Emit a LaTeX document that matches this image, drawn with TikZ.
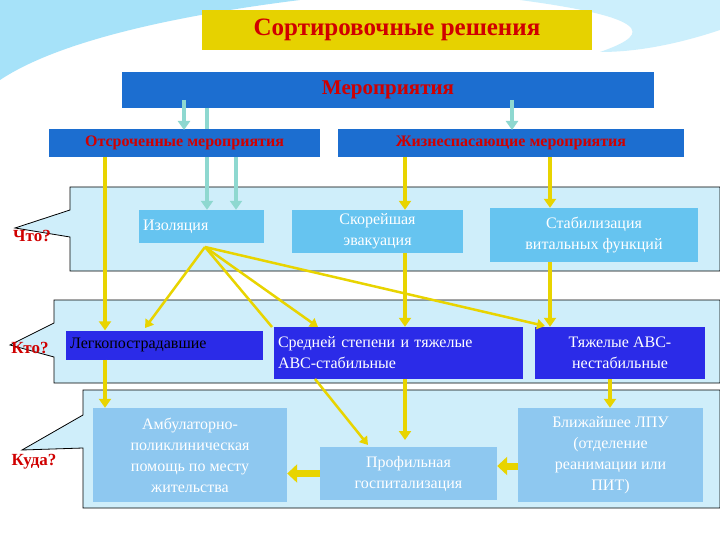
\documentclass[tikz,border=0pt]{standalone}
\usepackage{fontspec}
\setmainfont{Liberation Serif}
\usetikzlibrary{arrows.meta}
\definecolor{ttl}{HTML}{E6D200}
\definecolor{mid}{HTML}{1C6ED0}
\definecolor{dk}{HTML}{2B2BE8}
\definecolor{lt}{HTML}{66C4F0}
\definecolor{pale}{HTML}{8EC8F0}
\definecolor{panel}{HTML}{CFEEFA}
\definecolor{yel}{HTML}{E8D400}
\definecolor{teal}{HTML}{8ED8D0}
\definecolor{rd}{HTML}{D00000}
\tikzset{x=1pt,y=-1pt,
 bx/.style={inner sep=4pt,align=center,font=\fontsize{16}{21}\selectfont},
 pan/.style={fill=panel,draw=black,line width=0.8pt},
 ya/.style={draw=yel,line width=3.5pt,-{Triangle[length=9pt,width=12pt]}},
 yl/.style={draw=yel,line width=2.5pt,-{Triangle[length=8pt,width=10pt]}},
 ta/.style={draw=teal,line width=3.5pt,-{Triangle[length=9pt,width=12pt]}},
 q/.style={text=rd,font=\bfseries\fontsize{17}{19}\selectfont}}
\begin{document}
\begin{tikzpicture}
\useasboundingbox (0,0) rectangle (720,540);
\fill[white] (0,0) rectangle (720,540);
\fill[cyan!35] (0,0) -- (300,0) .. controls (180,15) and (60,40) .. (0,80) -- cycle;
\fill[cyan!20] (520,0) -- (720,0) -- (720,30) .. controls (660,50) and (620,52) .. (600,52) .. controls (640,38) and (670,20) .. (520,0);
\draw[pan] (70,187)--(720,187)--(720,271)--(70,271)--(70,237)--(15,228)--(70,210)--cycle;
\draw[pan] (54,300)--(720,300)--(720,383)--(54,383)--(54,357)--(10,345)--(54,323)--cycle;
\draw[pan] (83,390)--(720,390)--(720,508)--(83,508)--(83,448)--(22,450)--(83,415)--cycle;
\node[fill=ttl,minimum width=390pt,minimum height=40pt,text=rd,font=\bfseries\fontsize{25}{28}\selectfont] (t) at (397,30) {Сортировочные решения};
\node[fill=mid,minimum width=532pt,minimum height=36pt,text=rd,font=\bfseries\fontsize{21}{24}\selectfont] (m) at (388,90) {Мероприятия};
\node[fill=mid,minimum width=271pt,minimum height=28pt,text=rd,font=\bfseries\fontsize{16}{18}\selectfont] (o) at (184.5,143) {Отсроченные мероприятия};
\node[fill=mid,minimum width=346pt,minimum height=28pt,text=rd,font=\bfseries\fontsize{16}{18}\selectfont] (z) at (511,143) {Жизнеспасающие мероприятия};
\node[q] (q1) at (32,236) {Что?};
\node[q] (q2) at (30,348) {Кто?};
\node[q] (q3) at (34,462) {Куда?};
\node[bx,fill=lt,text=white,minimum width=125pt,minimum height=33pt,text width=117pt,align=left] (iz) at (201.5,226.5) {Изоляция};
\node[bx,fill=lt,text=white,minimum width=171pt,minimum height=43pt,inner sep=1pt] (sk) at (377.5,231.5) {Скорейшая\\эвакуация};
\node[bx,fill=lt,text=white,minimum width=208pt,minimum height=54pt] (st) at (594,235) {Стабилизация\\витальных функций};
\node[bx,fill=dk,text=black,minimum width=197pt,minimum height=29pt,text width=189pt,align=left] (lg) at (164.5,345) {Легкопострадавшие};
\node[bx,fill=dk,text=white,minimum width=249pt,minimum height=52pt,text width=241pt,align=left] (sr) at (398.5,353) {Средней степени и тяжелые\\АВС-стабильные};
\node[bx,fill=dk,text=white,minimum width=170pt,minimum height=52pt] (tj) at (620,353) {Тяжелые АВС-\\нестабильные};
\node[bx,fill=pale,text=white,minimum width=194pt,minimum height=94pt,inner sep=1pt] (am) at (190,455) {Амбулаторно-\\поликлиническая\\помощь по месту\\жительства};
\node[bx,fill=pale,text=white,minimum width=177pt,minimum height=53pt,inner sep=1pt] (pr) at (408.5,473.5) {Профильная\\госпитализация};
\node[bx,fill=pale,text=white,minimum width=185pt,minimum height=94pt,inner sep=1pt] (bl) at (610.5,455) {Ближайшее ЛПУ\\(отделение\\реанимации или\\ПИТ)};
% teal
\draw[ta] (184,100) -- (184,130);
\draw[ta] (512,100) -- (512,130);
\draw[teal,line width=3.5pt] (207,108) -- (207,129);
\draw[ta] (207,157) -- (iz.north -| 207,0);
\draw[ta] (236,157) -- (iz.north -| 236,0);
% yellow
\draw[ya] (105,157) -- (lg.north -| 105,0);
\draw[ya] (405,157) -- (sk.north -| 405,0);
\draw[ya] (550,157) -- (st.north -| 550,0);
\draw[ya] (sk.south -| 405,0) -- (sr.north -| 405,0);
\draw[ya] (st.south -| 550,0) -- (tj.north -| 550,0);
\coordinate (c) at (205,247);
\draw[yl] (c) -- (145,328);
\draw[yl,-] (c) -- (272,327);
\draw[yl] (c) -- (318,327);
\draw[yl] (c) -- (545,326);
\draw[ya] (lg.south -| 105,0) -- (am.north -| 105,0);
\draw[ya] (sr.south -| 405,0) -- (405,440);
\draw[yl] (315,379) -- (368,445);
\draw[ya] (tj.south -| 610,0) -- (bl.north -| 610,0);
\draw[draw=yel,line width=7pt,-{Triangle[length=10pt,width=18pt]}] (pr.west) -- (am.east |- pr.west);
\draw[draw=yel,line width=7pt,-{Triangle[length=10pt,width=18pt]}] (bl.west |- 0,466) -- (pr.east |- 0,466);
\end{tikzpicture}
\end{document}
